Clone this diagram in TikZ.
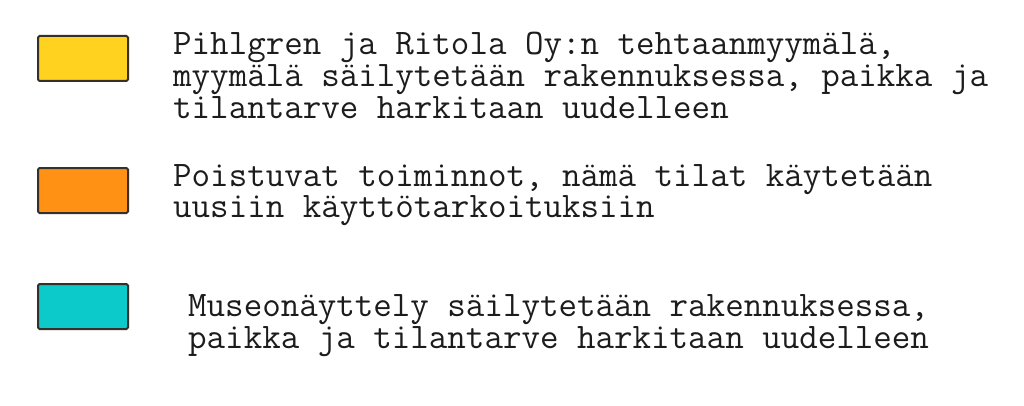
\documentclass[tikz,border=0pt]{standalone}
\usepackage{fontspec}
\definecolor{legyellow}{HTML}{FFD21F}
\definecolor{legorange}{HTML}{FF9214}
\definecolor{legcyan}{HTML}{0CCACA}
\definecolor{legborder}{HTML}{35302A}
\definecolor{legtext}{HTML}{1C1C1C}
\begin{document}
\begin{tikzpicture}[x=1pt,y=1pt,
  swatch/.style={draw=legborder,line width=2pt,rounded corners=1.5pt,minimum width=90pt,minimum height=45pt,inner sep=0pt,anchor=north west},
  legtxt/.style={anchor=base west,inner sep=0pt,align=left,text=legtext,font=\ttfamily\fontsize{35.96}{31.5}\selectfont}]
\useasboundingbox (0,0) rectangle (1024,405);
\node[swatch,fill=legyellow] (s1) at (37,370) {};
\node[swatch,fill=legorange] (s2) at (37,238) {};
\node[swatch,fill=legcyan] (s3) at (37,122) {};
\node[legtxt] (t1) at (173,287) {Pihlgren ja Ritola Oy:n tehtaanmyymälä,\\myymälä säilytetään rakennuksessa, paikka ja\\tilantarve harkitaan uudelleen};
\node[legtxt] (t2) at (173,187.5) {Poistuvat toiminnot, nämä tilat käytetään\\uusiin käyttötarkoituksiin};
\node[legtxt] (t3) at (188,57) {Museonäyttely säilytetään rakennuksessa,\\paikka ja tilantarve harkitaan uudelleen};
\end{tikzpicture}
\end{document}
